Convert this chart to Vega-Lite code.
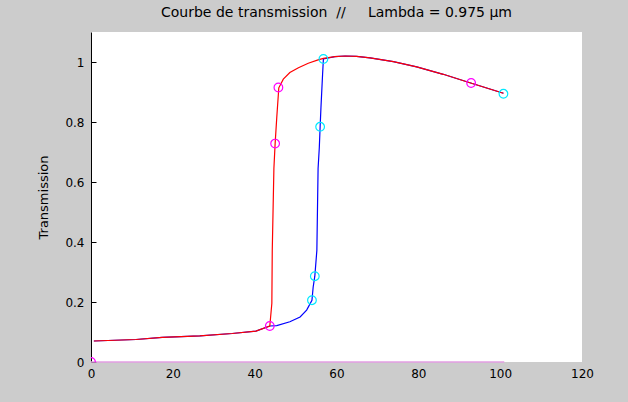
{
  "$schema": "https://vega.github.io/schema/vega-lite/v6.json",
  "width": 491,
  "height": 330,
  "autosize": {"type": "none"},
  "padding": {"left": 91, "top": 32, "right": 46, "bottom": 40},
  "background": "#cccccc",
  "view": {"fill": "white", "stroke": null},
  "title": {
    "text": "Courbe de transmission \u00a0//\u00a0\u00a0\u00a0\u00a0 Lambda = 0.975 µm",
    "font": "DejaVu Sans",
    "fontSize": 14,
    "fontWeight": "normal",
    "color": "black",
    "anchor": "middle",
    "offset": 12
  },
  "datasets": {
    "red": [
      {"x": 0.7, "y": 0.070}, {"x": 11.0, "y": 0.075}, {"x": 17.4, "y": 0.082}, {"x": 26.6, "y": 0.087},
      {"x": 34.5, "y": 0.095}, {"x": 40.3, "y": 0.103}, {"x": 43.7, "y": 0.120}, {"x": 44.2, "y": 0.196},
      {"x": 44.3, "y": 0.372}, {"x": 44.7, "y": 0.645}, {"x": 45.0, "y": 0.728}, {"x": 45.4, "y": 0.815},
      {"x": 45.9, "y": 0.914}, {"x": 47.0, "y": 0.943}, {"x": 48.6, "y": 0.965}, {"x": 50.7, "y": 0.981},
      {"x": 53.1, "y": 0.996}, {"x": 55.5, "y": 1.007}, {"x": 56.8, "y": 1.012}, {"x": 59.6, "y": 1.018},
      {"x": 62.1, "y": 1.020}, {"x": 64.9, "y": 1.019}, {"x": 68.2, "y": 1.014},
      {"x": 73.9, "y": 1.001}, {"x": 79.6, "y": 0.984}, {"x": 86.1, "y": 0.959}, {"x": 92.6, "y": 0.931},
      {"x": 100.8, "y": 0.896}
    ],
    "blue": [
      {"x": 0.7, "y": 0.070}, {"x": 11.0, "y": 0.075}, {"x": 17.4, "y": 0.082}, {"x": 26.6, "y": 0.087},
      {"x": 34.5, "y": 0.095}, {"x": 40.3, "y": 0.103}, {"x": 43.7, "y": 0.120}, {"x": 45.4, "y": 0.121},
      {"x": 48.6, "y": 0.134}, {"x": 51.1, "y": 0.150}, {"x": 52.7, "y": 0.173}, {"x": 54.0, "y": 0.206},
      {"x": 54.3, "y": 0.250}, {"x": 54.7, "y": 0.286}, {"x": 55.2, "y": 0.372}, {"x": 55.5, "y": 0.645},
      {"x": 55.8, "y": 0.715}, {"x": 56.0, "y": 0.784}, {"x": 56.2, "y": 0.848}, {"x": 56.6, "y": 0.959},
      {"x": 56.8, "y": 1.010}, {"x": 59.6, "y": 1.018}, {"x": 62.1, "y": 1.020}, {"x": 64.9, "y": 1.019}, {"x": 68.2, "y": 1.014},
      {"x": 73.9, "y": 1.001}, {"x": 79.6, "y": 0.984}, {"x": 86.1, "y": 0.959}, {"x": 92.6, "y": 0.931},
      {"x": 100.8, "y": 0.896}
    ],
    "base": [
      {"x": 0, "y": 0}, {"x": 101, "y": 0}
    ],
    "magenta": [
      {"x": 0, "y": 0}, {"x": 43.7, "y": 0.120}, {"x": 45.0, "y": 0.728}, {"x": 45.8, "y": 0.915}, {"x": 92.9, "y": 0.930}
    ],
    "cyan": [
      {"x": 54.0, "y": 0.206}, {"x": 54.7, "y": 0.286}, {"x": 56.0, "y": 0.784}, {"x": 56.8, "y": 1.010}, {"x": 100.8, "y": 0.894}
    ]
  },
  "encoding": {
    "x": {
      "field": "x", "type": "quantitative",
      "scale": {"domain": [0, 120], "nice": false, "zero": false},
      "axis": {
        "title": null, "values": [0, 20, 40, 60, 80, 100, 120], "grid": false,
        "domain": false, "ticks": false, "labelPadding": 6, "labelFlush": false,
        "labelFont": "DejaVu Sans", "labelFontSize": 12, "labelColor": "black"
      }
    },
    "y": {
      "field": "y", "type": "quantitative",
      "scale": {"domain": [0, 1.1], "nice": false, "zero": false},
      "axis": {
        "title": "Transmission", "values": [0, 0.2, 0.4, 0.6, 0.8, 1], "format": "~g", "grid": false,
        "domain": true, "domainColor": "black", "domainWidth": 1,
        "ticks": true, "tickColor": "black", "tickSize": -5, "labelPadding": 12,
        "labelFont": "DejaVu Sans", "labelFontSize": 12, "labelColor": "black",
        "titleFont": "DejaVu Sans", "titleFontSize": 13, "titleFontWeight": "normal", "titleColor": "black",
        "titleAngle": -90, "titleBaseline": "middle", "titleX": -48, "titleY": 165, "titleAlign": "center"
      }
    }
  },
  "layer": [
    {"data": {"name": "base"}, "mark": {"type": "line", "color": "#e39ee3", "strokeWidth": 1.5, "clip": false}},
    {"data": {"name": "blue"}, "mark": {"type": "line", "color": "#0000ff", "strokeWidth": 1.2}},
    {"data": {"name": "red"}, "mark": {"type": "line", "color": "#ff0000", "strokeWidth": 1.2}},
    {"data": {"name": "magenta"}, "mark": {"type": "point", "shape": "circle", "filled": false, "color": "#ff00ff", "size": 75, "strokeWidth": 1.2, "opacity": 1, "clip": true}},
    {"data": {"name": "cyan"}, "mark": {"type": "point", "shape": "circle", "filled": false, "color": "#00e8ff", "size": 75, "strokeWidth": 1.2, "opacity": 1}}
  ]
}
